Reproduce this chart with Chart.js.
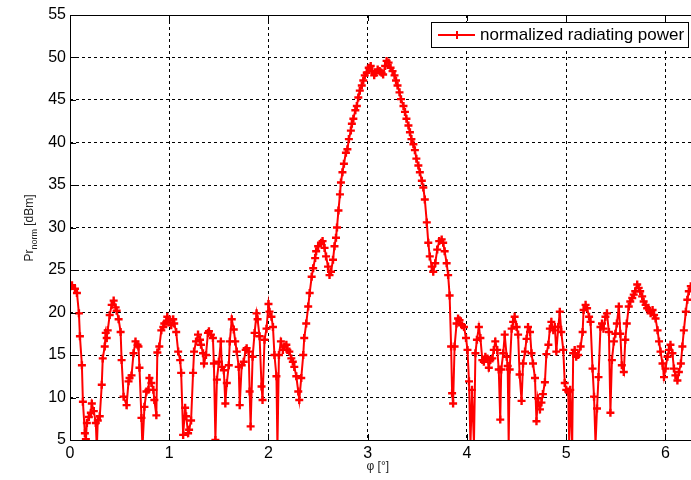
<!DOCTYPE html>
<html lang="en">
<head>
	<meta charset="UTF-8">
	<title>normalized radiating power</title>
	<script src="https://cdn.jsdelivr.net/npm/chart.js@4.4.0/dist/chart.umd.min.js"></script>
	<style>
		html,body{margin:0;padding:0;background:#fff;overflow:hidden;}
	</style>
</head>
<body>
	<canvas id="myChart" width="700" height="480"></canvas>
<script>
//angle (rad) and normalized power (dBm)
var phi = [0.00,0.02,0.05,0.07,0.09,0.10,0.12,0.13,0.15,0.16,0.17,0.19,0.21,0.22,0.24,0.26,0.27,0.28,0.30,0.32,
	0.33,0.35,0.36,0.37,0.38,0.40,0.42,0.44,0.46,0.47,0.49,0.51,0.52,0.54,0.57,0.59,0.60,0.62,0.64,0.66,
	0.68,0.69,0.70,0.72,0.73,0.75,0.77,0.79,0.80,0.82,0.84,0.85,0.87,0.88,0.90,0.92,0.94,0.95,0.97,0.98,
	1.00,1.02,1.04,1.05,1.07,1.09,1.11,1.12,1.14,1.16,1.17,1.19,1.20,1.22,1.24,1.25,1.27,1.29,1.31,1.32,
	1.34,1.35,1.37,1.39,1.40,1.42,1.44,1.45,1.465,1.48,1.50,1.52,1.53,1.55,1.565,1.58,1.60,1.61,1.63,1.65,
	1.665,1.68,1.70,1.71,1.73,1.75,1.77,1.78,1.80,1.81,1.82,1.84,1.86,1.88,1.89,1.91,1.93,1.94,1.96,1.98,
	2.00,2.01,2.03,2.045,2.06,2.08,2.09,2.105,2.125,2.145,2.16,2.18,2.19,2.21,2.23,2.245,2.26,2.28,2.30,2.31,
	2.33,2.35,2.36,2.38,2.40,2.415,2.435,2.45,2.47,2.48,2.50,2.53,2.545,2.565,2.58,2.60,2.615,2.63,2.65,2.665,
	2.68,2.69,2.705,2.72,2.73,2.745,2.76,2.78,2.795,2.81,2.83,2.84,2.855,2.875,2.89,2.905,2.92,2.94,2.955,2.97,
	2.99,3.01,3.03,3.045,3.065,3.08,3.10,3.12,3.14,3.155,3.175,3.19,3.21,3.23,3.25,3.27,3.285,3.30,3.32,3.335,
	3.36,3.375,3.39,3.41,3.425,3.44,3.46,3.475,3.49,3.51,3.525,3.545,3.56,3.575,3.595,3.61,3.625,3.645,3.66,3.68,
	3.70,3.72,3.745,3.76,3.775,3.795,3.81,3.825,3.84,3.85,3.86,3.875,3.895,3.91,3.925,3.95,3.97,3.99,4.005,4.02,
	4.035,4.05,4.07,4.085,4.10,4.12,4.135,4.155,4.17,4.185,4.205,4.22,4.235,4.255,4.27,4.285,4.305,4.32,4.335,4.345,
	4.365,4.38,4.40,4.41,4.42,4.43,4.45,4.465,4.48,4.50,4.515,4.53,4.55,4.565,4.585,4.60,4.615,4.635,4.65,4.665,
	4.685,4.70,4.715,4.735,4.75,4.765,4.785,4.80,4.82,4.835,4.85,4.87,4.885,4.90,4.92,4.935,4.95,4.97,4.985,5.00,
	5.02,5.03,5.04,5.06,5.07,5.085,5.10,5.12,5.145,5.165,5.175,5.195,5.21,5.23,5.245,5.265,5.28,5.295,5.31,5.325,
	5.345,5.36,5.375,5.395,5.41,5.43,5.445,5.46,5.48,5.495,5.51,5.53,5.545,5.56,5.58,5.595,5.61,5.63,5.645,5.665,
	5.68,5.695,5.715,5.73,5.745,5.765,5.78,5.80,5.815,5.835,5.85,5.87,5.885,5.90,5.92,5.935,5.95,5.97,5.985,6.00,
	6.02,6.035,6.05,6.07,6.085,6.10,6.12,6.135,6.155,6.17,6.185,6.205,6.22,6.235,6.255];
var prNorm = [23.0,23.2,22.8,22.3,19.9,17.2,13.8,9.5,5.8,5.1,7.0,7.7,8.2,9.3,8.4,7.0,4.0,7.3,7.8,11.5,
	14.6,16.0,17.6,17.0,17.9,19.7,20.9,21.4,20.6,20.2,19.2,17.7,14.4,10.1,9.1,11.9,12.3,12.6,15.2,16.6,
	16.2,16.0,13.5,7.6,4.0,8.9,10.7,10.9,12.3,11.7,10.9,9.7,7.9,15.3,16.0,17.9,18.3,18.7,18.9,19.5,
	19.1,18.5,19.2,18.7,17.7,15.4,14.4,12.9,5.6,8.8,7.8,5.8,6.2,7.3,12.9,15.4,16.6,17.4,16.8,16.2,
	15.2,14.0,15.0,17.6,17.8,17.4,17.0,14.0,5.0,12.1,14.2,16.6,13.6,13.2,9.3,11.7,13.8,16.6,19.2,18.0,
	16.6,15.4,13.6,9.1,13.8,14.2,15.6,15.8,15.4,10.7,6.6,14.8,17.6,19.9,19.2,17.2,11.3,9.7,16.8,18.1,
	21.0,20.1,19.5,18.3,15.0,12.5,4.0,15.0,16.6,15.6,16.0,16.2,15.6,15.4,14.6,14.2,13.6,12.5,10.7,9.7,
	12.3,15.0,17.0,18.7,20.7,22.3,24.2,25.2,26.4,27.2,27.8,28.2,28.4,27.6,26.6,25.4,24.4,24.8,26.2,27.8,
	28.8,30.0,32.0,33.9,35.3,36.5,37.5,38.8,39.2,40.4,41.4,42.2,42.8,43.8,44.3,45.3,46.1,46.7,47.3,47.9,
	48.2,48.8,49.0,48.4,47.9,48.2,48.6,48.4,48.2,48.0,49.0,49.6,49.4,48.8,48.4,47.9,47.3,46.7,45.9,45.1,
	44.3,43.6,42.8,42.0,41.2,40.4,39.8,39.1,38.1,37.3,36.5,35.5,34.7,33.3,30.6,28.2,26.6,25.4,24.8,25.8,
	27.4,28.4,28.6,28.2,27.2,25.8,24.4,22.0,16.0,10.5,9.3,16.0,18.7,19.3,19.1,18.5,18.3,17.0,15.6,11.9,
	4.5,10.9,4.5,15.2,16.8,18.3,17.0,14.4,14.2,14.8,14.6,13.5,14.4,14.6,15.6,16.6,15.6,13.3,7.4,13.3,
	15.2,17.4,14.8,13.7,4.5,13.3,18.1,18.9,19.5,18.3,17.4,12.7,9.6,14.0,15.4,16.9,18.3,17.7,15.2,14.0,
	12.3,7.2,9.9,8.6,9.4,10.4,11.8,15.1,16.2,18.1,18.9,17.9,18.3,15.4,18.3,20.1,17.7,15.6,11.7,10.9,
	10.7,4.5,10.9,4.5,15.2,15.6,14.8,15.0,16.0,17.7,20.3,20.9,20.5,19.5,18.9,13.4,10.1,4.5,8.7,12.4,
	18.3,18.7,18.1,19.5,19.9,17.7,8.2,14.4,16.6,17.5,18.7,20.7,17.5,13.8,13.0,16.8,18.7,20.7,21.3,21.7,
	22.1,22.5,23.3,22.9,22.5,21.9,21.3,20.9,20.5,20.3,19.9,20.3,19.7,19.3,17.9,16.6,15.4,14.0,12.4,13.4,
	14.8,15.6,16.2,15.2,13.4,12.6,12.0,13.0,14.0,16.0,17.9,20.1,21.5,22.5,23.1];
var xTicks = [0,1,2,3,4,5,6];
var yTicks = [5,10,15,20,25,30,35,40,45,50,55];
var seriesName = "normalized radiating power";

var pts = [];
for(var i=0;i<phi.length;i++){
	pts.push({x:phi[i], y:prNorm[i]});
}

var FONT = "'Liberation Sans', Arial, sans-serif";

//frame, inner tick marks, axis titles and legend
var matlabLook = {
	id:'matlabLook',
	afterDraw:function(chart){
		var ctx = chart.ctx, a = chart.chartArea;
		var xs = chart.scales.x, ys = chart.scales.y;
		ctx.save();
		ctx.strokeStyle = "#000";
		ctx.lineWidth = 1;
		ctx.beginPath();
		ctx.moveTo(Math.round(a.left)+0.5, Math.round(a.bottom)+0.5);
		ctx.lineTo(Math.round(a.left)+0.5, Math.round(a.top)+0.5);
		ctx.lineTo(Math.round(a.right)+0.5, Math.round(a.top)+0.5);
		ctx.lineTo(Math.round(a.right)+0.5, Math.round(a.bottom)+0.5);
		ctx.lineTo(Math.round(a.left)+0.5, Math.round(a.bottom)+0.5);
		ctx.stroke();
		//tick marks pointing inward
		ctx.beginPath();
		xTicks.forEach(function(v){
			var px = Math.round(xs.getPixelForValue(v))+0.5;
			ctx.moveTo(px, a.bottom); ctx.lineTo(px, a.bottom-6);
			ctx.moveTo(px, a.top); ctx.lineTo(px, a.top+6);
		});
		yTicks.forEach(function(v){
			var py = Math.round(ys.getPixelForValue(v))+0.5;
			ctx.moveTo(a.left, py); ctx.lineTo(a.left+6, py);
		});
		ctx.stroke();

		//x title
		ctx.fillStyle = "#222";
		ctx.font = "12px "+FONT;
		ctx.textAlign = "center";
		ctx.textBaseline = "middle";
		ctx.fillText("\u03c6 [\u00b0]", (a.left+a.right)/2 - 4, 467);

		//y title with subscript
		ctx.save();
		ctx.translate(29, 228);
		ctx.rotate(-Math.PI/2);
		ctx.textAlign = "left";
		ctx.textBaseline = "alphabetic";
		ctx.font = "12px "+FONT;
		var w1 = ctx.measureText("Pr").width;
		ctx.font = "9px "+FONT;
		var w2 = ctx.measureText("norm").width;
		ctx.font = "12px "+FONT;
		var w3 = ctx.measureText(" [dBm]").width;
		var x0 = -(w1+w2+w3)/2;
		ctx.fillText("Pr", x0, 4);
		ctx.font = "9px "+FONT;
		ctx.fillText("norm", x0+w1, 8);
		ctx.font = "12px "+FONT;
		ctx.fillText(" [dBm]", x0+w1+w2, 4);
		ctx.restore();

		//legend
		var bx = 431.5, by = 22.5, bw = 257, bh = 25;
		ctx.fillStyle = "#fff";
		ctx.fillRect(bx, by, bw, bh);
		ctx.strokeStyle = "#000";
		ctx.lineWidth = 1;
		ctx.strokeRect(bx, by, bw, bh);
		ctx.strokeStyle = "#ff0000";
		ctx.lineWidth = 2;
		ctx.beginPath();
		ctx.moveTo(438, 35); ctx.lineTo(475, 35);
		ctx.moveTo(457, 31); ctx.lineTo(457, 39);
		ctx.stroke();
		ctx.fillStyle = "#000";
		ctx.font = "17px "+FONT;
		ctx.textAlign = "left";
		ctx.textBaseline = "middle";
		ctx.fillText(seriesName, 480, 35.5);
		ctx.restore();
	}
};

var ctx = document.getElementById("myChart");
var myChart = new Chart(ctx, {
	type:"line",
	data:{
		datasets:[{
			label: seriesName,
			data: pts,
			borderColor: "#ff0000",
			backgroundColor: "#ff0000",
			borderWidth: 2,
			pointStyle: "cross",
			pointRadius: 4,
			pointBorderWidth: 2.4,
			pointHoverRadius: 4,
			tension: 0,
			fill: false
		}]
	},
	options:{
		responsive:false,
		animation:false,
		events:[],
		layout:{padding:{left:0, top:15, right:6, bottom:0}},
		plugins:{
			legend:{display:false},
			tooltip:{enabled:false}
		},
		scales:{
			x:{
				type:"linear",
				min:0,
				max:6.2832,
				afterFit:function(s){ s.height = 40; },
				afterBuildTicks:function(s){
					s.ticks = xTicks.map(function(v){ return {value:v}; });
				},
				grid:{color:"#000", lineWidth:1, drawTicks:false},
				border:{display:false, dash:[3,3]},
				ticks:{color:"#000", font:{family:FONT, size:16}, padding:4, maxRotation:0,
					callback:function(v){ return v; }}
			},
			y:{
				min:5,
				max:55,
				afterFit:function(s){ s.width = 70; },
				afterBuildTicks:function(s){
					s.ticks = yTicks.map(function(v){ return {value:v}; });
				},
				grid:{color:"#000", lineWidth:1, drawTicks:false},
				border:{display:false, dash:[3,3]},
				ticks:{color:"#000", font:{family:FONT, size:16}, padding:4,
					callback:function(v){ return v; }}
			}
		}
	},
	plugins:[matlabLook]
});
</script>
</body>
</html>
